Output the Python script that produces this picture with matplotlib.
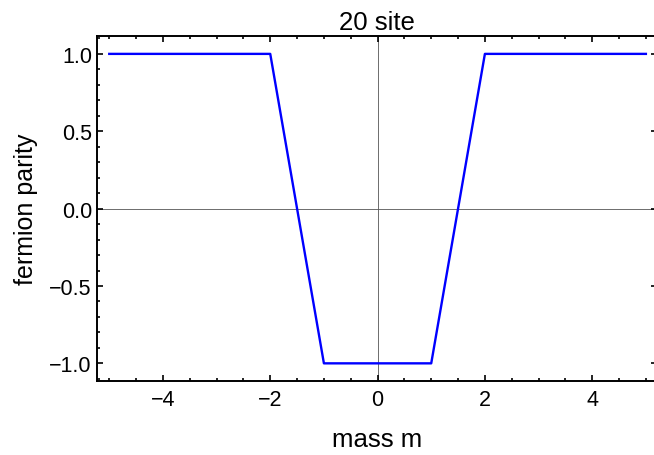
import matplotlib
matplotlib.use('Agg')
import matplotlib.pyplot as plt
from matplotlib.ticker import MultipleLocator

# fermion parity vs mass, 20 site chain
mass = [-5, -2, -1, 1, 2, 5]
parity = [1, 1, -1, -1, 1, 1]

plt.rcParams['font.family'] = ['Liberation Sans', 'DejaVu Sans']

fig = plt.figure(figsize=(6.54, 4.56), dpi=100)
ax = fig.add_axes([0.149, 0.163, 0.855, 0.756])

ax.axhline(0, color='#555555', lw=0.6, zorder=1)
ax.axvline(0, color='#555555', lw=0.6, zorder=1)
ax.plot(mass, parity, color=(0, 0, 1), lw=1.7, zorder=3)

ax.set_xlim(-5.22, 5.2)
ax.set_ylim(-1.112, 1.116)
ax.xaxis.set_major_locator(MultipleLocator(2))
ax.xaxis.set_minor_locator(MultipleLocator(0.5))
ax.yaxis.set_major_locator(MultipleLocator(0.5))
ax.yaxis.set_minor_locator(MultipleLocator(0.1))
ax.xaxis.set_major_formatter(plt.FuncFormatter(lambda v, p: '{:g}'.format(v).replace('-', '\u2212')))
ax.yaxis.set_major_formatter(plt.FuncFormatter(lambda v, p: '{:.1f}'.format(v).replace('-', '\u2212')))

ax.tick_params(which='both', direction='in', top=True, right=True, width=1.2, labelsize=15.5)
ax.tick_params(axis='x', pad=6)
ax.tick_params(axis='y', pad=4)
ax.tick_params(which='major', length=4)
ax.tick_params(which='minor', length=2.5)
for s in ax.spines.values():
    s.set_linewidth(1.4)

ax.set_title('20 site', fontsize=18.5, pad=5)
ax.set_xlabel('mass m', fontsize=18.5, labelpad=12)
ax.set_ylabel('fermion parity', fontsize=18, labelpad=8)

fig.savefig('out.png', dpi=100)
